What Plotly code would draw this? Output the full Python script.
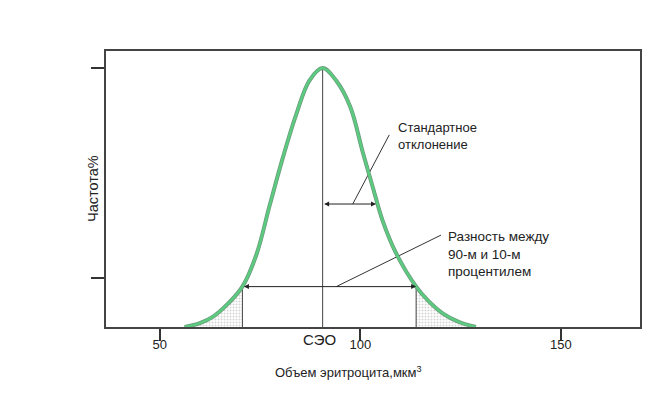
import plotly.graph_objects as go

# curve (volume in fl, relative frequency)
volume = [56.2, 60.0, 63.3, 67.0, 70.6, 74.1, 77.4, 80.7, 84.0, 87.3, 90.6,
          94.0, 97.5, 100.6, 103.1, 105.5, 108.9, 113.9, 117.0, 120.5, 124.5, 128.8]
freq = [0.0, 0.015, 0.04, 0.09, 0.156, 0.28, 0.47, 0.655, 0.82, 0.952, 1.0,
        0.951, 0.85, 0.675, 0.54, 0.413, 0.285, 0.156, 0.10, 0.053, 0.02, 0.0]

# shaded tails (below 10th and above 90th percentile)
left_tail_x = volume[:5]
left_tail_y = freq[:5]
right_tail_x = volume[17:]
right_tail_y = freq[17:]

mcv = 90.6
p10, p90 = 70.6, 113.9
p_level = 0.156
sd_end = 103.9
sd_level = 0.475

# leader lines: [x0, x1], [y0, y1]
sd_leader_x = [98.1, 107.2]
sd_leader_y = [0.475, 0.742]
pr_leader_x = [94.0, 120.1]
pr_leader_y = [0.156, 0.355]

x_ticks = [50, 100, 150]
y_ticks = [0.19, 1.0]

fig = go.Figure()

# tails with dotted fill
for tx, ty in [(left_tail_x, left_tail_y), (right_tail_x, right_tail_y)]:
    fig.add_trace(go.Scatter(
        x=tx, y=ty, mode='lines', fill='tozeroy',
        line=dict(color='#333', width=1, shape='spline'),
        fillcolor='rgba(255,255,255,0)',
        fillpattern=dict(shape='.', fgcolor='#aaa', bgcolor='white', size=3, solidity=0.35),
        hoverinfo='skip'))

# vertical lines: MCV and percentiles
for vx, vy in [(mcv, 1.0), (p10, p_level), (p90, p_level)]:
    fig.add_trace(go.Scatter(
        x=[vx, vx], y=[0, vy], mode='lines',
        line=dict(color='#444', width=1), hoverinfo='skip'))

# leader lines
for lx, ly in [(sd_leader_x, sd_leader_y), (pr_leader_x, pr_leader_y)]:
    fig.add_trace(go.Scatter(
        x=lx, y=ly, mode='lines',
        line=dict(color='#333', width=1), hoverinfo='skip'))

# the bell curve (grey edge + green)
fig.add_trace(go.Scatter(
    x=volume, y=freq, mode='lines',
    line=dict(color='#6a9a7c', width=4, shape='spline'), hoverinfo='skip'))
fig.add_trace(go.Scatter(
    x=volume, y=freq, mode='lines',
    line=dict(color='#5ccb80', width=2.5, shape='spline'), hoverinfo='skip'))

# double arrows
for x0, x1, yy in [(p10, p90, p_level), (mcv, sd_end, sd_level)]:
    fig.add_annotation(
        x=x1, y=yy, ax=x0, ay=yy, xref='x', yref='y', axref='x', ayref='y',
        showarrow=True, arrowhead=2, arrowsize=1, arrowwidth=1,
        arrowside='end+start', arrowcolor='#222', text='')

fam = 'Liberation Sans, Arial'
font = dict(family=fam, size=13, color='#222')

fig.add_annotation(x=109.0, y=0.737, xref='x', yref='y', text='Стандартное<br>отклонение',
                   showarrow=False, xanchor='left', align='left', font=font)
fig.add_annotation(x=121.4, y=0.282, xref='x', yref='y',
                   text='Разность между<br>90-м и 10-м<br>процентилем',
                   showarrow=False, xanchor='left', align='left',
                   font=dict(family=fam, size=13.5, color='#222'))
fig.add_annotation(x=89.9, y=0, xref='x', yref='y', yshift=-12, text='СЭО',
                   showarrow=False, font=dict(family=fam, size=15, color='#222'))
fig.add_annotation(x=0.455, y=-0.163, xref='paper', yref='paper',
                   text='Объем эритроцита,мкм<sup>3</sup>', showarrow=False, yanchor='middle',
                   font=dict(family=fam, size=13, color='#222'))
fig.add_annotation(x=-0.043, y=0.5, xref='paper', yref='paper', text='Частота%',
                   textangle=-90, showarrow=False, font=dict(family=fam, size=14.5, color='#222'))

# page body has an 8px margin, so the figure is sized and offset for it
fig.update_layout(
    width=646, height=402,
    margin=dict(l=98, r=12, t=43, b=83),
    paper_bgcolor='white', plot_bgcolor='white',
    showlegend=False,
)
fig.update_xaxes(
    range=[36.6, 169.7], tickvals=x_ticks, ticks='outside', ticklen=12,
    tickcolor='#333', tickwidth=1.5, showgrid=False, zeroline=False,
    showline=True, linecolor='#444', linewidth=2, mirror=True,
    ticklabelstandoff=-8,
    tickfont=dict(family=fam, size=13, color='#222'))
fig.update_yaxes(
    range=[0, 1.066], tickvals=y_ticks, ticks='outside', ticklen=13,
    tickcolor='#333', tickwidth=1.5, showticklabels=False, showgrid=False,
    zeroline=False, showline=True, linecolor='#444', linewidth=2, mirror=True)

fig.write_html("out.html")
